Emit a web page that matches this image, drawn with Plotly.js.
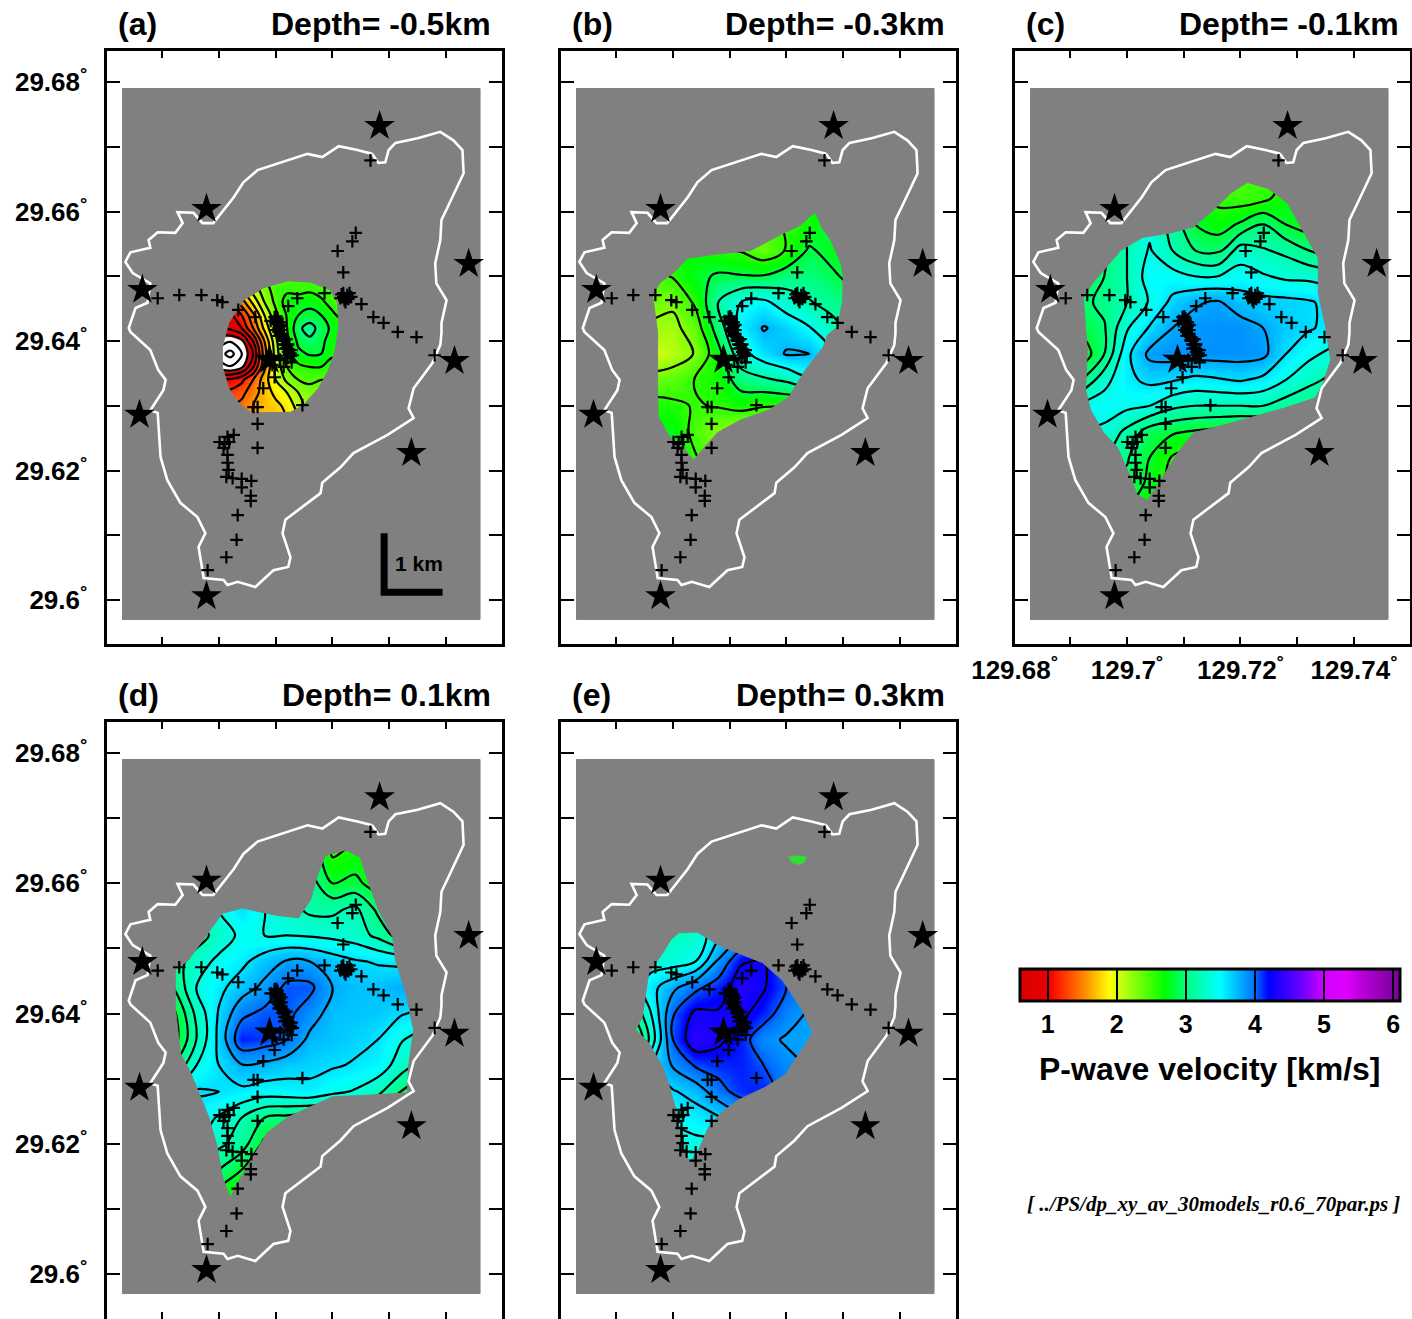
<!DOCTYPE html>
<html><head><meta charset="utf-8">
<script src="https://cdn.plot.ly/plotly-3.0.1.min.js"></script>
<style>html,body{margin:0;padding:0;background:#fff;overflow:hidden}</style>
</head><body><div id="chart" style="width:1412px;height:1319px"></div>
<script>
const coastLon=[129.7270,129.7281,129.7293,129.7299,129.7311,129.7350,129.7390,129.7413,129.7429,129.7431,129.7403,129.7392,129.7390,129.7381,129.7383,129.7401,129.7392,129.7392,129.7390,129.7376,129.7343,129.7334,129.7343,129.7297,129.7237,129.7214,129.7182,129.7179,129.7117,129.7112,129.7126,129.7122,129.7096,129.7064,129.7033,129.7015,129.7008,129.6973,129.6964,129.6976,129.6962,129.6932,129.6909,129.6897,129.6892,129.6879,129.6902,129.6906,129.6893,129.6879,129.6844,129.6841,129.6853,129.6874,129.6879,129.6848,129.6835,129.6844,129.6879,129.6876,129.6892,129.6923,129.6936,129.6927,129.6955,129.6971,129.6990,129.7026,129.7043,129.7068,129.7156,129.7182,129.7211,129.7244,129.7270];
const coastLat=[29.6689,29.6675,29.6676,29.6695,29.6706,29.6713,29.6723,29.6710,29.6695,29.6659,29.6607,29.6587,29.6556,29.6520,29.6489,29.6463,29.6428,29.6412,29.6394,29.6366,29.6327,29.6296,29.6281,29.6255,29.6227,29.6205,29.6181,29.6165,29.6124,29.6103,29.6066,29.6051,29.6046,29.6020,29.6028,29.6023,29.6031,29.6034,29.6082,29.6103,29.6128,29.6150,29.6185,29.6221,29.6289,29.6293,29.6324,29.6340,29.6355,29.6386,29.6414,29.6420,29.6451,29.6459,29.6489,29.6505,29.6522,29.6537,29.6544,29.6556,29.6568,29.6567,29.6582,29.6599,29.6598,29.6582,29.6582,29.6622,29.6645,29.6664,29.6689,29.6684,29.6701,29.6695,29.6689];
const starLon=[129.7283,129.6978,129.7440,129.6865,129.7415,129.6860,129.7339,129.6978,129.7089];
const starLat=[29.6732,29.6604,29.6519,29.6479,29.6369,29.6286,29.6227,29.6006,29.6371];
const stationLon=[129.7267,129.7241,129.7235,129.7209,129.7219,129.6892,129.6930,129.6969,129.6997,129.7006,129.7034,129.7219,129.7226,129.7214,129.7223,129.7230,129.7219,129.7225,129.7186,129.7251,129.7272,129.7290,129.7315,129.7348,129.7380,129.7138,129.7122,129.7064,129.7098,129.7091,129.7101,129.7103,129.7103,129.7105,129.7105,129.7108,129.7112,129.7115,129.7119,129.7122,129.7126,129.7107,129.7110,129.7114,129.7121,129.7128,129.7094,129.7114,129.7128,129.7098,129.7078,129.7061,129.7068,129.7068,129.7068,129.7147,129.7108,129.7121,129.7026,129.7015,129.7018,129.7001,129.7010,129.7008,129.7015,129.7015,129.7017,129.7013,129.7024,129.7040,129.7057,129.7040,129.7056,129.7056,129.7033,129.7031,129.7013,129.6980,
129.7103,129.7105,129.7107,129.7108,129.7108,129.7112,129.7115,129.7117,129.7122,129.7126,129.7100,129.7101,129.7105,129.7115,129.7130,129.7119,129.7122,129.7110,129.7216,129.7228,129.7221,129.7233];
const stationLat=[29.6679,29.6567,29.6554,29.6539,29.6506,29.6466,29.6471,29.6471,29.6463,29.6460,29.6448,29.6468,29.6471,29.6466,29.6460,29.6474,29.6474,29.6466,29.6474,29.6457,29.6437,29.6428,29.6414,29.6406,29.6378,29.6466,29.6454,29.6437,29.6437,29.6431,29.6438,29.6432,29.6426,29.6420,29.6414,29.6408,29.6401,29.6395,29.6389,29.6383,29.6377,29.6429,29.6417,29.6405,29.6394,29.6386,29.6363,29.6360,29.6367,29.6344,29.6327,29.6298,29.6298,29.6272,29.6235,29.6301,29.6371,29.6374,29.6255,29.6252,29.6244,29.6244,29.6241,29.6235,29.6224,29.6212,29.6201,29.6190,29.6188,29.6187,29.6184,29.6174,29.6161,29.6153,29.6131,29.6093,29.6066,29.6046,
29.6435,29.6429,29.6423,29.6417,29.6411,29.6406,29.6400,29.6394,29.6388,29.6381,29.6429,29.6417,29.6408,29.6388,29.6378,29.6403,29.6395,29.6425,29.6472,29.6465,29.6463,29.6468];

const outlineALon=[129.7043,129.7078,129.7121,129.7161,129.7196,129.7209,129.7211,129.7205,129.7193,129.7175,129.7149,129.7126,129.7091,129.7056,129.7033,129.7017,129.7006,129.7006,129.7017];
const outlineALat=[29.6463,29.6482,29.6493,29.6491,29.6479,29.6459,29.6422,29.6386,29.6355,29.6327,29.6301,29.6290,29.6289,29.6289,29.6306,29.6327,29.6360,29.6391,29.6428];
const outlineBLon=[129.7251,129.7263,129.7278,129.7295,129.7300,129.7299,129.7290,129.7272,129.7265,129.7233,129.7204,129.7168,129.7119,129.7078,129.7036,129.7018,129.6992,129.6974,129.6973,129.6973,129.6966,129.6964,129.6978,129.7001,129.7026,129.7066,129.7137,129.7189,129.7225,129.7239];
const outlineBLat=[29.6599,29.6574,29.6556,29.6522,29.6502,29.6463,29.6422,29.6409,29.6391,29.6355,29.6313,29.6293,29.6278,29.6258,29.6216,29.6236,29.6255,29.6283,29.6329,29.6412,29.6452,29.6471,29.6491,29.6505,29.6528,29.6533,29.6540,29.6564,29.6579,29.6591];
const outlineCLon=[129.7212,129.7248,129.7283,129.7306,129.7337,129.7337,129.7350,129.7359,129.7346,129.7332,129.7276,129.7182,129.7117,129.7089,129.7063,129.7036,129.7018,129.7006,129.6983,129.6959,129.6936,129.6927,129.6930,129.6923,129.6941,129.6989,129.7027,129.7077,129.7117,129.7152,129.7182];
const outlineCLat=[29.6645,29.6636,29.6613,29.6576,29.6528,29.6474,29.6422,29.6371,29.6335,29.6312,29.6296,29.6273,29.6258,29.6227,29.6190,29.6154,29.6162,29.6190,29.6236,29.6258,29.6293,29.6324,29.6386,29.6468,29.6491,29.6540,29.6560,29.6567,29.6576,29.6602,29.6628];
const outlineDLon=[129.7223,129.7249,129.7263,129.7281,129.7306,129.7311,129.7329,129.7343,129.7334,129.7332,129.7270,129.7200,129.7122,129.7085,129.7064,129.7029,129.7020,129.7006,129.6997,129.6982,129.6950,129.6932,129.6923,129.6923,129.6946,129.6976,129.7006,129.7041,129.7100,129.7140,129.7161,129.7175,129.7188];
const outlineDLat=[29.6651,29.6640,29.6602,29.6559,29.6518,29.6482,29.6432,29.6375,29.6318,29.6278,29.6275,29.6272,29.6241,29.6217,29.6186,29.6134,29.6117,29.6149,29.6195,29.6241,29.6309,29.6339,29.6410,29.6467,29.6482,29.6518,29.6554,29.6562,29.6551,29.6547,29.6574,29.6616,29.6643];
const outlineELon=[129.7010,129.7043,129.7080,129.7115,129.7158,129.7193,129.7228,129.7246,129.7216,129.7198,129.7163,129.7115,129.7087,129.7063,129.7043,129.7029,129.7022,129.7017,129.7004,129.6992,129.6982,129.6957,129.6934,129.6946,129.6952,129.6957,129.6982,129.6996];
const outlineELat=[29.6524,29.6525,29.6505,29.6493,29.6478,29.6451,29.6405,29.6370,29.6329,29.6306,29.6287,29.6267,29.6249,29.6226,29.6186,29.6172,29.6186,29.6195,29.6256,29.6293,29.6318,29.6355,29.6375,29.6395,29.6432,29.6462,29.6493,29.6513];
const blobELon=[129.7203,129.7219,129.7235,129.7232,129.7222,129.7210];
const blobELat=[29.6640,29.6642,29.6640,29.6633,29.6629,29.6632];

const gridALon=[129.698,129.700,129.702,129.704,129.706,129.708,129.710,129.712,129.714,129.716,129.718,129.720,129.722];
const gridALat=[29.652,29.650,29.648,29.646,29.644,29.642,29.640,29.638,29.636,29.634,29.632,29.630,29.628];
const velA=[
[1.8,1.9,2.0,2.2,2.4,2.5,2.5,2.5,2.5,2.5,2.5,2.5,2.5],
[1.6,1.7,1.9,2.1,2.3,2.4,2.45,2.45,2.5,2.5,2.5,2.5,2.5],
[1.3,1.4,1.6,1.8,2.1,2.3,2.5,2.55,2.5,2.55,2.5,2.5,2.5],
[1.0,1.1,1.25,1.5,1.85,2.2,2.45,2.7,2.75,2.75,2.65,2.5,2.4],
[0.8,0.85,0.95,1.2,1.55,2.0,2.35,2.62,2.8,2.85,2.8,2.65,2.5],
[0.7,0.75,0.85,1.0,1.4,1.85,2.25,2.6,2.95,3.1,2.9,2.75,2.7],
[0.55,0.5,0.42,0.55,1.0,1.6,2.15,2.55,2.85,2.95,2.85,2.7,2.62],
[0.5,0.3,0.12,0.38,0.8,1.5,2.1,2.5,2.75,2.82,2.8,2.62,2.7],
[0.58,0.5,0.42,0.55,0.98,1.55,2.05,2.4,2.55,2.6,2.6,2.55,2.5],
[1.0,1.0,1.05,1.15,1.4,1.7,2.0,2.25,2.4,2.45,2.4,2.4,2.4],
[1.2,1.2,1.25,1.35,1.5,1.7,1.85,2.0,2.2,2.3,2.3,2.3,2.3],
[1.4,1.4,1.4,1.45,1.6,1.7,1.75,1.85,2.1,2.3,2.3,2.3,2.3],
[1.5,1.5,1.5,1.5,1.6,1.7,1.7,1.8,2.0,2.2,2.2,2.2,2.2]];
const gridBLon=[129.692,129.696,129.700,129.704,129.708,129.712,129.716,129.720,129.724,129.728,129.732];
const gridBLat=[29.666,29.662,29.658,29.654,29.650,29.646,29.642,29.638,29.634,29.630,29.626,29.622,29.618,29.614];
const velB=[
[2.65,2.65,2.65,2.65,2.65,2.65,2.65,2.65,2.65,2.65,2.65],
[2.65,2.65,2.65,2.65,2.65,2.65,2.65,2.65,2.7,2.75,2.75],
[2.65,2.65,2.65,2.65,2.65,2.57,2.5,2.57,2.65,2.89,2.95],
[2.65,2.65,2.65,2.7,2.6,2.53,2.35,2.57,2.89,2.75,2.75],
[2.35,2.45,2.57,2.77,2.89,2.87,2.87,3.0,3.0,2.9,2.75],
[2.35,2.35,2.3,2.6,3.15,3.45,3.51,3.3,3.17,3.05,2.95],
[2.15,2.2,2.17,2.4,3.0,3.55,3.77,3.65,3.47,3.25,3.05],
[2.0,2.0,2.1,2.27,2.75,3.35,3.6,3.77,3.75,3.45,3.25],
[2.3,2.35,2.4,2.57,2.65,3.0,3.1,3.2,3.4,3.35,3.15],
[2.57,2.65,2.6,2.53,2.57,2.65,2.57,2.57,2.57,2.57,2.57],
[2.65,2.7,2.77,2.45,2.27,2.15,2.15,2.15,2.15,2.15,2.15],
[2.75,2.75,2.75,2.57,2.35,2.27,2.15,2.15,2.15,2.15,2.15],
[2.75,2.75,2.7,2.57,2.35,2.27,2.15,2.15,2.15,2.15,2.15],
[2.75,2.75,2.7,2.57,2.35,2.27,2.15,2.15,2.15,2.15,2.15]];
const gridCLon=[129.692,129.696,129.700,129.704,129.708,129.712,129.716,129.720,129.724,129.728,129.732,129.736];
const gridCLat=[29.666,29.662,29.658,29.654,29.650,29.646,29.642,29.638,29.634,29.630,29.626,29.622,29.618,29.614];
const velC=[
[3.0,3.0,3.0,3.0,2.8,2.6,2.5,2.45,2.5,2.6,2.7,2.7],
[3.0,3.0,3.1,3.1,2.9,2.7,2.55,2.5,2.55,2.7,2.8,2.8],
[3.0,3.05,3.2,3.35,3.12,2.8,2.7,2.83,3.0,2.8,2.7,2.7],
[2.9,3.0,3.2,3.42,3.2,3.0,2.95,3.3,3.22,3.15,3.0,2.9],
[2.9,3.0,3.2,3.5,3.48,3.4,3.4,3.48,3.42,3.36,3.35,3.3],
[2.95,3.05,3.2,3.42,3.65,3.78,3.82,3.7,3.66,3.65,3.62,3.55],
[2.85,2.98,3.38,3.62,3.8,3.86,3.88,3.88,3.8,3.68,3.62,3.55],
[2.65,3.0,3.55,3.85,3.88,3.88,3.88,3.88,3.85,3.6,3.45,3.35],
[3.0,3.33,3.55,3.65,3.62,3.55,3.58,3.62,3.55,3.4,3.27,3.15],
[3.45,3.5,3.45,3.4,3.25,3.2,3.2,3.2,3.2,3.1,3.0,2.95],
[3.4,3.35,3.15,2.9,2.83,2.78,2.74,2.7,2.7,2.7,2.7,2.7],
[3.2,3.2,3.02,2.8,2.58,2.5,2.5,2.5,2.5,2.5,2.5,2.5],
[3.0,3.0,2.95,2.75,2.5,2.45,2.45,2.45,2.45,2.45,2.45,2.45],
[2.9,2.9,2.8,2.6,2.4,2.4,2.4,2.4,2.4,2.4,2.4,2.4]];
const gridDLon=[129.692,129.696,129.700,129.704,129.708,129.712,129.716,129.720,129.724,129.728,129.732,129.736];
const gridDLat=[29.668,29.664,29.660,29.656,29.652,29.648,29.644,29.640,29.636,29.632,29.628,29.624,29.620,29.616,29.612,29.608];
const velD=[
[3.2,3.2,3.2,3.2,3.2,3.2,3.0,2.6,2.5,2.6,2.7,2.8],
[3.2,3.2,3.2,3.2,3.2,3.2,3.0,2.6,2.7,2.6,2.6,2.7],
[3.2,3.2,3.3,3.3,3.3,3.3,3.1,2.8,2.85,2.7,2.7,2.7],
[3.2,3.3,3.4,3.6,3.4,3.3,3.15,3.15,3.25,2.95,2.8,2.8],
[3.0,3.1,3.28,3.45,3.4,3.4,3.38,3.35,3.3,3.15,2.9,2.8],
[3.1,3.3,3.45,3.55,3.7,3.82,3.8,3.7,3.62,3.58,3.55,3.5],
[3.0,3.4,3.55,3.7,3.85,4.05,4.05,3.8,3.72,3.72,3.78,3.75],
[2.75,3.25,3.62,3.95,4.05,4.05,3.9,3.72,3.7,3.68,3.62,3.55],
[2.7,3.2,3.65,4.15,4.1,4.0,3.75,3.7,3.65,3.6,3.42,3.3],
[3.0,3.4,3.6,3.78,3.75,3.68,3.65,3.62,3.58,3.52,3.3,3.1],
[3.4,3.62,3.6,3.55,3.5,3.52,3.55,3.45,3.38,3.25,3.0,2.85],
[3.5,3.5,3.38,3.2,3.0,2.95,2.9,2.9,2.9,2.9,2.9,2.9],
[3.4,3.4,3.25,3.1,2.75,2.7,2.7,2.7,2.7,2.7,2.7,2.7],
[3.2,3.2,3.0,2.8,2.6,2.6,2.6,2.6,2.6,2.6,2.6,2.6],
[3.0,3.0,2.7,2.6,2.5,2.5,2.5,2.5,2.5,2.5,2.5,2.5],
[2.8,2.8,2.6,2.5,2.5,2.5,2.5,2.5,2.5,2.5,2.5,2.5]];
const gridELon=[129.692,129.696,129.700,129.704,129.708,129.712,129.716,129.720,129.724,129.728];
const gridELat=[29.656,29.652,29.648,29.644,29.640,29.636,29.632,29.628,29.624,29.620,29.616];
const velE=[
[3.45,3.45,3.45,3.35,3.65,3.83,3.83,3.83,3.83,3.83],
[3.45,3.45,3.25,3.3,3.6,3.8,3.83,3.83,3.83,3.83],
[3.45,3.35,3.35,3.45,3.88,4.23,4.27,3.95,3.83,3.83],
[3.25,3.57,3.8,4.0,4.15,4.35,4.27,4.05,3.9,3.83],
[2.95,3.43,4.03,4.3,4.27,4.3,4.15,3.93,3.83,3.82],
[2.55,3.3,4.05,4.4,4.3,4.15,3.9,3.83,3.82,3.82],
[3.05,3.6,3.87,4.07,4.13,4.15,4.05,3.9,3.83,3.82],
[3.45,3.55,3.63,3.73,3.97,4.13,4.15,3.95,3.83,3.83],
[3.45,3.45,3.47,3.55,3.63,3.8,3.9,3.9,3.83,3.83],
[3.35,3.35,3.4,3.4,3.4,3.45,3.55,3.55,3.55,3.55],
[3.25,3.25,3.35,3.35,3.25,3.25,3.25,3.25,3.25,3.25]];

const velocityStops=[0.6,1.0,1.1,1.5,1.9,2.0,2.7,3.0,3.5,4.0,4.2,4.7,5.0,5.3,5.5,6.0,6.1];
const velocityColors=['#d80000','#e80000','#ff1000','#ff8000','#ffff00','#d8ff10','#00ff00','#00ff80','#00ffff','#0070ff','#0000ff','#7000ff','#d000ff','#e000ff','#c000e0','#8000a0','#8000a0'];
const colorbarTicks=[1,2,3,4,5,6];
const landLon=[129.683,129.746], landLat=[29.597,29.679];
const scaleLon=[129.7291,129.7291,129.7394], scaleLat=[29.6103,29.6012,29.6012];
const latLabelVals=[29.6,29.62,29.64,29.66,29.68];
const latLabels=['29.6','29.62','29.64','29.66','29.68'];
const latMinor=[29.61,29.63,29.65,29.67];
const lonLabelVals=[129.6802,129.70,129.72,129.74];
const lonLabels=['129.68','129.7','129.72','129.74'];
const lonMinor=[129.69,129.71,129.73];
const panelLetters=['(a)','(b)','(c)','(d)','(e)'];
const panelDepths=['Depth= -0.5km','Depth= -0.3km','Depth= -0.1km','Depth= 0.1km','Depth= 0.3km'];

const W=1412,H=1319,FONT='"Liberation Sans", Arial, sans-serif';
const ZMAX=6.2;
const fieldScale=[[0,'#ffffff'],[0.58/ZMAX,'#ffffff']].concat(velocityStops.map((v,i)=>[v/ZMAX,velocityColors[i]])).concat([[1,'#8000a0']]);
const barScale=velocityStops.map((v,i)=>[(v-0.6)/5.5,velocityColors[i]]);

const panels=[
 {gx:gridALon,gy:gridALat,z:velA,ox:outlineALon,oy:outlineALat,start:0.2,size:0.2,box:[106.5,51,501.5,643.5],lat:[29.59328,29.68479]},
 {gx:gridBLon,gy:gridBLat,z:velB,ox:outlineBLon,oy:outlineBLat,start:0.15,size:0.3,box:[560.5,51,955.5,643.5],lat:[29.59328,29.68479]},
 {gx:gridCLon,gy:gridCLat,z:velC,ox:outlineCLon,oy:outlineCLat,start:0.2,size:0.2,box:[1014.5,51,1409.5,643.5],lat:[29.59328,29.68479]},
 {gx:gridDLon,gy:gridDLat,z:velD,ox:outlineDLon,oy:outlineDLat,start:0.2,size:0.2,box:[106.5,721.5,501.5,1319],lat:[29.59309,29.68484]},
 {gx:gridELon,gy:gridELat,z:velE,ox:outlineELon,oy:outlineELat,start:0.05,size:0.2,box:[560.5,721.5,955.5,1319],lat:[29.59309,29.68484]}];

const traces=[],annotations=[];
const layout={width:W,height:H,margin:{l:0,r:0,t:0,b:0},paper_bgcolor:'#fff',plot_bgcolor:'#fff',showlegend:false,annotations};
const note=(text,px,py,anchor,size,extra)=>annotations.push(Object.assign({text,x:px/W,y:1-py/H,xref:'paper',yref:'paper',xanchor:anchor,yanchor:'middle',showarrow:false,font:{family:FONT,size,color:'#000',weight:700}},extra||{}));

panels.forEach((p,i)=>{
 const n=i+1,xa='x'+n,ya='y'+n;
 const [x0,y0,x1,y1]=p.box;
 traces.push({type:'contour',xaxis:xa,yaxis:ya,x:p.gx,y:p.gy.slice().reverse(),z:p.z.slice().reverse(),
  colorscale:fieldScale,zmin:0,zmax:ZMAX,showscale:false,zsmooth:'best',hoverinfo:'skip',
  contours:{coloring:'heatmap',start:p.start,end:6,size:p.size,showlines:true},line:{color:'#000',width:2.2,smoothing:1}});
 // grey land sheet: the outer rectangle is wound against the outline so the resolved area stays open;
 // the outline is entered at its vertex nearest the sheet's corner so the joining seam never crosses it
 let k=0,best=1e9;
 p.ox.forEach((lon,j)=>{const d=Math.hypot(lon-landLon[0],p.oy[j]-landLat[0]);if(d<best){best=d;k=j;}});
 const ox=p.ox.slice(k).concat(p.ox.slice(0,k)),oy=p.oy.slice(k).concat(p.oy.slice(0,k));
 const mx=[landLon[0],landLon[1],landLon[1],landLon[0],landLon[0]].concat(ox,[ox[0],landLon[0]]);
 const my=[landLat[0],landLat[0],landLat[1],landLat[1],landLat[0]].concat(oy,[oy[0],landLat[0]]);
 traces.push({type:'scatter',mode:'lines',xaxis:xa,yaxis:ya,x:mx,y:my,fill:'toself',fillcolor:'#808080',line:{color:'#808080',width:1},hoverinfo:'skip'});
 if(i===4) traces.push({type:'scatter',mode:'lines',xaxis:xa,yaxis:ya,x:blobELon,y:blobELat,fill:'toself',fillcolor:'#30e030',line:{color:'#30e030',width:1},hoverinfo:'skip'});
 traces.push({type:'scatter',mode:'lines',xaxis:xa,yaxis:ya,x:coastLon,y:coastLat,line:{color:'#fff',width:2.6},hoverinfo:'skip'});
 traces.push({type:'scatter',mode:'markers',xaxis:xa,yaxis:ya,x:stationLon,y:stationLat,marker:{symbol:'cross-thin',size:9,color:'#000',line:{color:'#000',width:2.2}},hoverinfo:'skip'});
 traces.push({type:'scatter',mode:'markers',xaxis:xa,yaxis:ya,x:starLon,y:starLat,marker:{symbol:'star',size:23,color:'#000',line:{width:0}},hoverinfo:'skip'});
 const sfx=n===1?'':n;
 layout['xaxis'+sfx]={domain:[x0/W,x1/W],range:[129.68018,129.74978],anchor:'y'+n,showgrid:false,zeroline:false,
   showline:true,mirror:'ticks',linewidth:3,linecolor:'#000',ticks:'inside',ticklen:7,tickwidth:1.6,tickcolor:'#000',
   tickmode:'array',tickvals:lonLabelVals,ticktext:lonLabels.map(t=>t+'<sup>°</sup>'),showticklabels:n===3,ticklabelstandoff:1,
   minor:{tickmode:'array',tickvals:lonMinor,ticks:'inside',ticklen:7,tickwidth:1.6,tickcolor:'#000'},
   tickfont:{family:FONT,size:26,color:'#000',weight:700}};
 layout['yaxis'+sfx]={domain:[1-y1/H,1-y0/H],range:p.lat,anchor:'x'+n,showgrid:false,zeroline:false,
   showline:true,mirror:'ticks',linewidth:3,linecolor:'#000',ticks:'inside',ticklen:13,tickwidth:1.6,tickcolor:'#000',
   tickmode:'array',tickvals:latLabelVals,ticktext:latLabels.map(t=>t+'<sup>°</sup>'),showticklabels:n===1||n===4,ticklabelstandoff:11,
   minor:{tickmode:'array',tickvals:latMinor,ticks:'inside',ticklen:13,tickwidth:1.6,tickcolor:'#000'},
   tickfont:{family:FONT,size:26,color:'#000',weight:700}};
 note(panelLetters[i],x0+9,y0-27,'left',32);
 note(panelDepths[i],x1-9,y0-27,'right',32);
});

traces.push({type:'scatter',mode:'lines',xaxis:'x',yaxis:'y',x:scaleLon,y:scaleLat,line:{color:'#000',width:7},hoverinfo:'skip'});
traces.push({type:'heatmap',xaxis:'x3',yaxis:'y3',x:[129.5,129.6],y:[29.5,29.55],z:[[velocityStops[0],velocityStops[16]],[velocityStops[0],velocityStops[16]]],
 colorscale:barScale,zmin:0.6,zmax:6.1,hoverinfo:'skip',
 colorbar:{orientation:'h',lenmode:'pixels',len:380,thicknessmode:'pixels',thickness:32,x:1210/W,xanchor:'center',xpad:0,y:1-969/H,yanchor:'top',ypad:0,
  outlinewidth:3,outlinecolor:'#000',ticks:'inside',ticklen:32,tickwidth:1.5,tickcolor:'#000',tickmode:'array',tickvals:colorbarTicks,
  tickfont:{family:FONT,size:25,color:'#000',weight:700}}});
note('1 km',393,563,'left',21);
note('P-wave velocity [km/s]',1209,1069,'center',32);
note('<i>[ ../PS/dp_xy_av_30models_r0.6_70par.ps ]</i>',1213,1204,'center',21,{font:{family:'"Liberation Serif", serif',size:21,color:'#000',weight:700}});

Plotly.newPlot('chart',traces,layout,{displayModeBar:false,responsive:false});
</script></body></html>
